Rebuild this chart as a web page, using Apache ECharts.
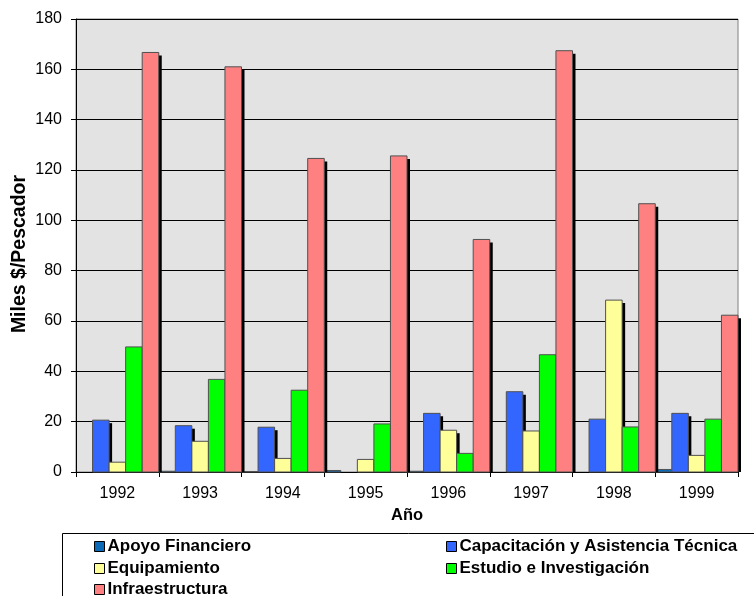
<!DOCTYPE html>
<html>
<head>
<meta charset="utf-8">
<script src="https://cdn.jsdelivr.net/npm/echarts@6/dist/echarts.min.js"></script>
<style>
html,body{margin:0;padding:0;background:#fff;}
#c{width:754px;height:596px;}
</style>
</head>
<body>
<div id="c"></div>
<script>
var years = ['1992','1993','1994','1995','1996','1997','1998','1999'];
var apoyo = [0, 0.3, 0.2, 0.6, 0.3, 0, 0, 1.0];
var capacitacion = [20.6, 18.4, 17.8, 0, 23.3, 31.9, 21.0, 23.3];
var equipamiento = [3.9, 12.2, 5.4, 5.0, 16.6, 16.3, 68.3, 6.6];
var estudio = [49.7, 36.8, 32.5, 19.1, 7.4, 46.6, 17.9, 21.0];
var infraestructura = [166.7, 161.0, 124.6, 125.6, 92.4, 167.4, 106.6, 62.3];
var seriesNames = ['Apoyo Financiero','Capacitación y Asistencia Técnica','Equipamiento','Estudio e Investigación','Infraestructura'];
var seriesColors = ['#0A6AB8','#3366FF','#FFFF99','#00FF00','#FF8080'];
var seriesData = [apoyo, capacitacion, equipamiento, estudio, infraestructura];
var yAxisTitle = 'Miles $/Pescador';
var xAxisTitle = 'Año';

var font = 'Arial, "Liberation Sans", sans-serif';
var chart = echarts.init(document.getElementById('c'), null, {renderer:'canvas'});
var nSeries = seriesNames.length;

function makeRender(i){
  return function(params, api){
    var v = api.value(1);
    if (!(v > 0)) return null;
    var cat = api.value(0);
    var base = api.coord([cat, 0]);
    var top = api.coord([cat, v]);
    var cw = api.size([1, 0])[0];
    var bw = cw / nSeries;
    var x = base[0] - cw / 2 + i * bw;
    var h = base[1] - top[1];
    return {
      type: 'group',
      children: [
        {type: 'rect', shape: {x: x + 3, y: top[1] + 3, width: bw, height: Math.max(h - 3, 0)}, style: {fill: '#000'}},
        {type: 'rect', shape: {x: x, y: top[1], width: bw, height: h}, style: {fill: seriesColors[i], stroke: '#505050', lineWidth: 1}}
      ]
    };
  };
}

var series = seriesNames.map(function(n, i){
  return {
    name: n,
    type: 'custom',
    renderItem: makeRender(i),
    data: seriesData[i].map(function(v, k){ return [k, v]; }),
    encode: {x: 0, y: 1},
    itemStyle: {color: seriesColors[i]},
    clip: false,
    emphasis: {disabled: true}
  };
});

var legendCommon = {
  orient: 'horizontal',
  icon: 'rect',
  itemWidth: 10,
  itemHeight: 10,
  selectedMode: false,
  padding: 0,
  textStyle: {fontFamily: font, fontSize: 17, fontWeight: 'bold', color: '#000', padding: [0,0,0,-2]},
  itemStyle: {borderColor: '#000', borderWidth: 1}
};
var legendPos = [[94, 547], [446, 547], [94, 569], [446, 569], [94, 590]];
var legends = seriesNames.map(function(n, i){
  return Object.assign({}, legendCommon, {left: legendPos[i][0], top: legendPos[i][1] - 9, data: [n]});
});

chart.setOption({
  animation: false,
  backgroundColor: '#fff',
  grid: {
    left: 76, top: 19, right: 16, bottom: 124,
    containLabel: false,
    outerBoundsMode: 'none',
    show: true,
    backgroundColor: '#E3E3E3',
    borderColor: '#808080',
    borderWidth: 1
  },
  xAxis: {
    type: 'category',
    data: years,
    name: xAxisTitle,
    nameLocation: 'middle',
    nameGap: 34,
    nameTextStyle: {fontFamily: font, fontSize: 16.5, fontWeight: 'bold', color: '#000'},
    axisLine: {lineStyle: {color: '#000', width: 1}},
    axisTick: {show: true, length: 5, lineStyle: {color: '#000'}},
    axisLabel: {fontFamily: font, fontSize: 16, color: '#000', margin: 14}
  },
  yAxis: {
    type: 'value',
    min: 0, max: 180, interval: 20,
    axisLine: {show: true, lineStyle: {color: '#000', width: 1}},
    axisTick: {show: true, length: 5, lineStyle: {color: '#000'}},
    axisLabel: {fontFamily: font, fontSize: 16, color: '#000', margin: 14},
    splitLine: {show: true, lineStyle: {color: '#000', width: 1}}
  },
  legend: legends,
  graphic: [{
    type: 'rect',
    shape: {x: 62.5, y: 533.5, width: 800, height: 100},
    style: {fill: 'none', stroke: '#000', lineWidth: 1},
    z: -1
  }, {
    type: 'text',
    x: 20, y: 254,
    rotation: Math.PI / 2,
    style: {text: yAxisTitle, fontFamily: font, fontSize: 19.5, fontWeight: 'bold', fill: '#000', align: 'center', verticalAlign: 'middle'}
  }],
  series: series
});
</script>
</body>
</html>
